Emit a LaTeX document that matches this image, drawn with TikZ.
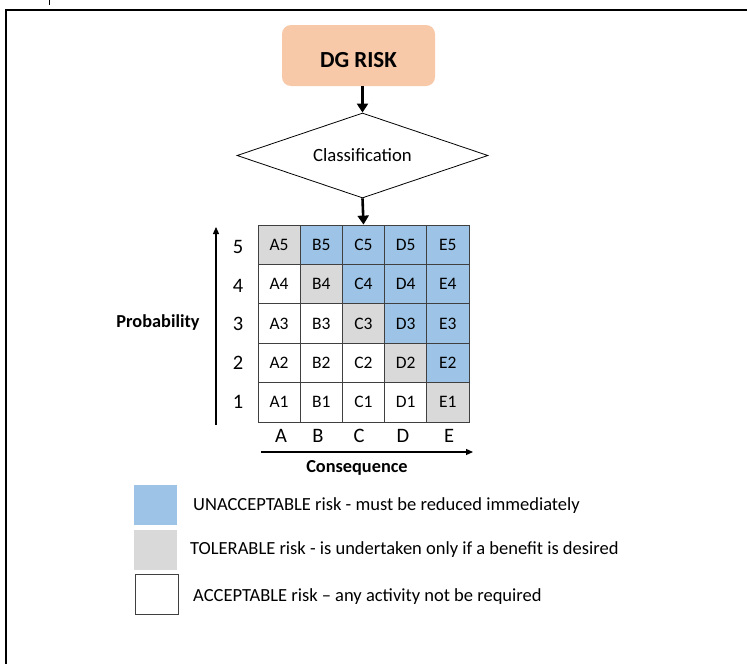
\documentclass[tikz,border=0pt]{standalone}
\usepackage{fontspec}
\setmainfont{Carlito}
\usetikzlibrary{arrows.meta,shapes.geometric}
\definecolor{peach}{HTML}{F7C9A9}
\definecolor{riskblue}{HTML}{9DC3E6}
\definecolor{riskgray}{HTML}{D9D9D9}
\definecolor{gridline}{HTML}{404040}
\begin{document}
\begin{tikzpicture}[x=1pt,y=-1pt,
  cell/.style={draw=gridline,line width=0.8pt,minimum width=42.2pt,minimum height=39.4pt,inner sep=0pt,font=\fontsize{17.5}{17.5}\selectfont},
  ua/.style={cell,fill=riskblue},
  tl/.style={cell,fill=riskgray},
  ac/.style={cell,fill=white},
  axnum/.style={font=\fontsize{20.5}{20.5}\selectfont,inner sep=0pt},
  flow/.style={line width=2.6pt,-{Triangle[length=9pt,width=11pt]}},
  axis/.style={line width=1.2pt,-{Triangle[length=7pt,width=6pt]}},
  legbox/.style={minimum width=43pt,minimum height=40pt,inner sep=0pt,anchor=north west},
  legtext/.style={anchor=west,inner sep=0pt,font=\fontsize{18.5}{18.5}\selectfont},
  axlabel/.style={font=\bfseries\fontsize{18.3}{18.3}\selectfont,inner sep=0pt}]
\useasboundingbox (0,0) rectangle (747,664);
\fill[white] (0,0) rectangle (747,664);
% outer frame (left and top edges)
\draw[line width=1.2pt] (6,664) -- (6,10) -- (747,10);
\draw[line width=1pt] (49,0) -- (49,5);

% flow part
\node[fill=peach,rounded corners=9pt,minimum width=153pt,minimum height=61pt,inner sep=0pt,
      font=\bfseries\fontsize{23}{23}\selectfont] (risk) at (358.5,55.5) {\raisebox{-12pt}[0pt][0pt]{DG RISK}};
\node[diamond,draw,line width=0.8pt,aspect=2.95,minimum width=251pt,minimum height=85pt,inner sep=0pt,
      font=\fontsize{18.7}{18.7}\selectfont] (cls) at (362.5,155.5) {Classification};

% risk matrix
\foreach \c/\x in {A/279.1,B/321.3,C/363.5,D/405.7,E/447.9}{
  \foreach \r/\y in {5/244.7,4/284.1,3/323.5,2/362.9,1/402.3}{
    \coordinate (p\c\r) at (\x,\y);
  }
}
\node[tl] (A5) at (pA5) {A5};
\node[ua] (B5) at (pB5) {B5};
\node[ua] (C5) at (pC5) {C5};
\node[ua] (D5) at (pD5) {D5};
\node[ua] (E5) at (pE5) {E5};
\node[ac] (A4) at (pA4) {A4};
\node[tl] (B4) at (pB4) {B4};
\node[ua] (C4) at (pC4) {C4};
\node[ua] (D4) at (pD4) {D4};
\node[ua] (E4) at (pE4) {E4};
\node[ac] (A3) at (pA3) {A3};
\node[ac] (B3) at (pB3) {B3};
\node[tl] (C3) at (pC3) {C3};
\node[ua] (D3) at (pD3) {D3};
\node[ua] (E3) at (pE3) {E3};
\node[ac] (A2) at (pA2) {A2};
\node[ac] (B2) at (pB2) {B2};
\node[ac] (C2) at (pC2) {C2};
\node[tl] (D2) at (pD2) {D2};
\node[ua] (E2) at (pE2) {E2};
\node[ac] (A1) at (pA1) {A1};
\node[ac] (B1) at (pB1) {B1};
\node[ac] (C1) at (pC1) {C1};
\node[ac] (D1) at (pD1) {D1};
\node[tl] (E1) at (pE1) {E1};

\draw[flow] (risk.south -| cls.north) -- (cls.north);
\draw[flow] (cls.south) -- (C5.north);

% probability axis
\foreach \r/\y in {5/246.5,4/285.5,3/324,2/362.5,1/402}{
  \node[axnum] (n\r) at (238,\y) {\r};
}
\coordinate (pbot) at (216,425);
\coordinate (ptop) at (216,227);
\draw[axis] (pbot) -- (ptop);
\node[axlabel] (prob) at (158,323) {Probability};

% consequence axis
\foreach \c/\x in {A/281,B/318,C/359,D/403,E/449}{
  \node[axnum] (l\c) at (\x,436) {\c};
}
\coordinate (cleft) at (261,452);
\coordinate (cright) at (473,452);
\draw[axis] (cleft) -- (cright);
\node[axlabel] (cons) at (357,468) {Consequence};

% legend
\node[legbox,fill=riskblue] (kua) at (134,485) {};
\node[legbox,fill=riskgray] (ktl) at (134,530) {};
\node[legbox,draw=gridline,line width=0.8pt,fill=white] (kac) at (135,574) {};
\node[legtext] (tua) at (193,506) {UNACCEPTABLE risk - must be reduced immediately};
\node[legtext] (ttl) at (190,550) {TOLERABLE risk - is undertaken only if a benefit is desired};
\node[legtext] (tac) at (193,597) {ACCEPTABLE risk -- any activity not be required};
\end{tikzpicture}
\end{document}
